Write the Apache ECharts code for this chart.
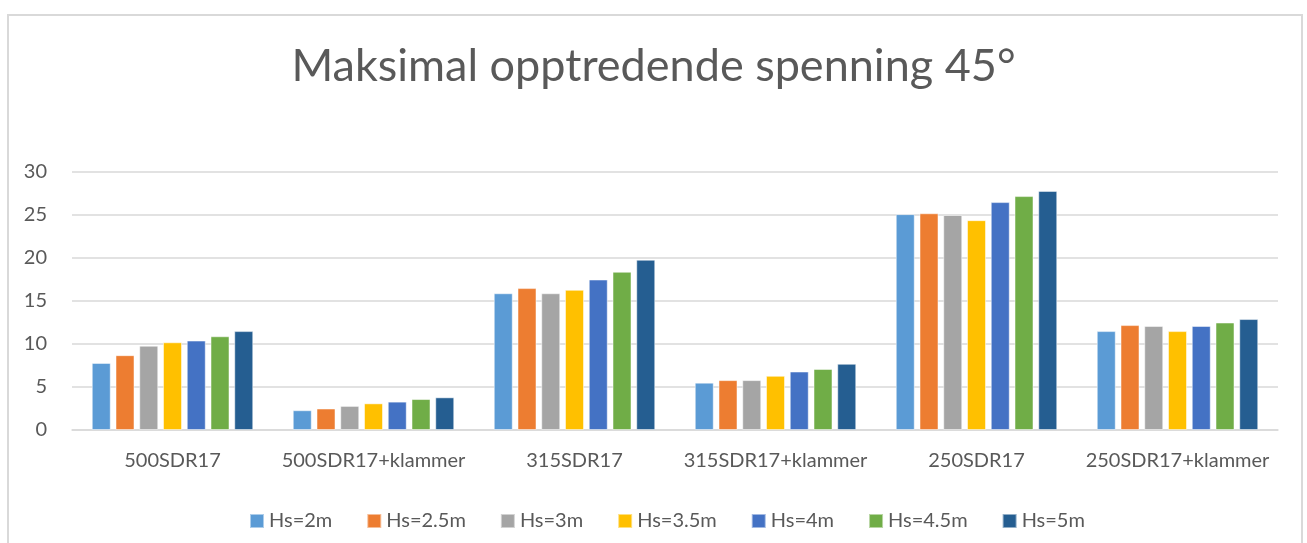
<!DOCTYPE html>
<html>
<head>
<meta charset="utf-8">
<script src="https://cdn.jsdelivr.net/npm/echarts@6/dist/echarts.min.js"></script>
<style>
  html, body { margin: 0; padding: 0; background: #fff; }
  #frame { position: absolute; left: 7px; top: 14px; width: 1296px; height: 560px; border: 2px solid #d9d9d9; box-sizing: border-box; }
  #chart { position: absolute; left: 0; top: 0; width: 1307px; height: 543px; }
</style>
</head>
<body>
<div id="frame"></div>
<div id="chart"></div>
<script>
const categories = ["500SDR17", "500SDR17+klammer", "315SDR17", "315SDR17+klammer", "250SDR17", "250SDR17+klammer"];
const seriesNames = ["Hs=2m", "Hs=2.5m", "Hs=3m", "Hs=3.5m", "Hs=4m", "Hs=4.5m", "Hs=5m"];
const colors = ["#5B9BD5", "#ED7D31", "#A5A5A5", "#FFC000", "#4472C4", "#70AD47", "#255E91"];

// one array per wave height, values per category
const hs2 = [7.8, 2.3, 15.9, 5.5, 25.1, 11.5];
const hs25 = [8.7, 2.5, 16.5, 5.8, 25.2, 12.2];
const hs3 = [9.8, 2.8, 15.9, 5.8, 25.0, 12.1];
const hs35 = [10.2, 3.1, 16.3, 6.3, 24.4, 11.5];
const hs4 = [10.4, 3.3, 17.5, 6.8, 26.5, 12.1];
const hs45 = [10.9, 3.6, 18.4, 7.1, 27.2, 12.5];
const hs5 = [11.5, 3.8, 19.8, 7.7, 27.8, 12.9];
const values = [hs2, hs25, hs3, hs35, hs4, hs45, hs5];

const textColor = "#595959";
const fontFamily = "Lato, 'Open Sans', sans-serif";

const chart = echarts.init(document.getElementById("chart"));
chart.setOption({
  animation: false,
  textStyle: { fontFamily: fontFamily },
  title: {
    text: "Maksimal opptredende spenning 45°",
    left: "center",
    top: 39,
    textStyle: { fontSize: 45, fontWeight: "normal", color: textColor, fontFamily: fontFamily },
  },
  legend: {
    data: seriesNames,
    top: 506,
    left: 244,
    itemWidth: 14,
    itemHeight: 14,
    itemGap: 34,
    icon: "rect",
    textStyle: { fontSize: 20, color: textColor },
  },
  grid: { left: 72, right: 29, top: 172, bottom: 113 },
  xAxis: {
    type: "category",
    data: categories,
    axisLine: { lineStyle: { color: "#d9d9d9", width: 1.5 } },
    axisTick: { show: false },
    axisLabel: { interval: 0, fontSize: 20, color: textColor, margin: 21 },
  },
  yAxis: {
    type: "value",
    min: 0,
    max: 30,
    interval: 5,
    axisLine: { show: false },
    axisTick: { show: false },
    axisLabel: { fontSize: 20, color: textColor, margin: 25 },
    splitLine: { lineStyle: { color: "#d9d9d9", width: 1.5 } },
  },
  series: values.map((v, i) => ({
    name: seriesNames[i],
    type: "bar",
    data: v,
    barWidth: 19,
    barGap: "25%",
    itemStyle: { color: colors[i], borderColor: "rgba(255,255,255,0.5)", borderWidth: 1 },
  })),
});
</script>
</body>
</html>
